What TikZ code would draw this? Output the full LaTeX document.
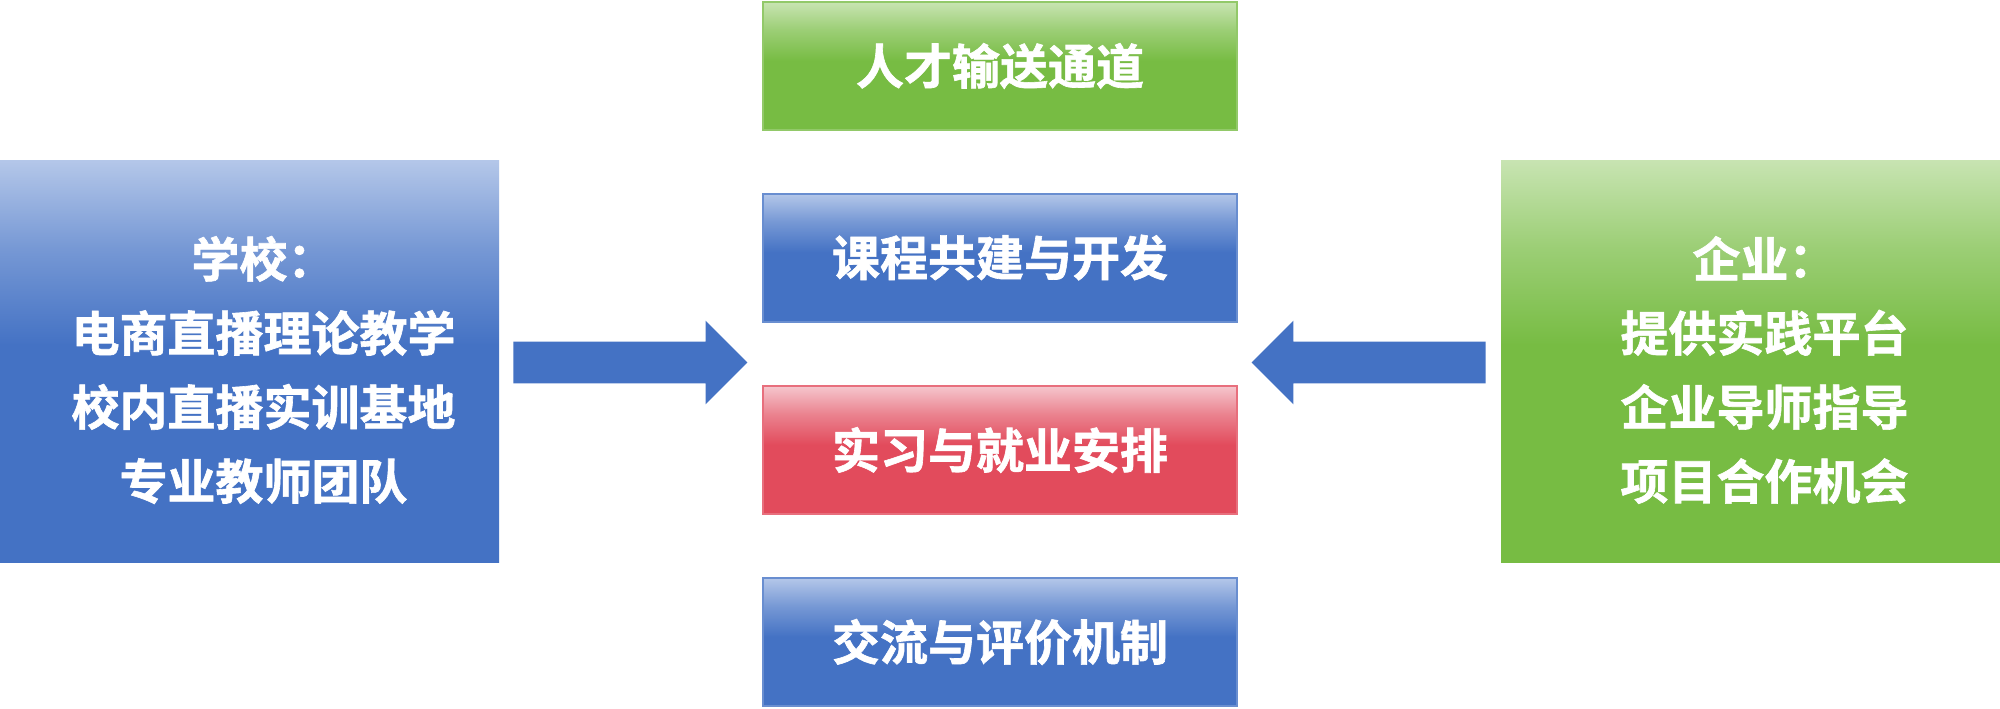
\documentclass[tikz,border=0pt]{standalone}
\usepackage{fontspec}
\newfontfamily\cjk{Noto Sans CJK SC}[UprightFont={* Bold},FakeBold=1.3]
\usetikzlibrary{shapes.arrows}
\definecolor{blueD}{HTML}{4472C4}
\definecolor{blueL}{HTML}{B4C7E9}
\definecolor{greenD}{HTML}{77BC43}
\definecolor{greenL}{HTML}{C8E4B2}
\definecolor{redD}{HTML}{E24B5C}
\definecolor{redL}{HTML}{F5C6CD}
\colorlet{blueM}{blueD!55!blueL}
\colorlet{greenM}{greenD!55!greenL}
\colorlet{redM}{redD!55!redL}
\pgfdeclareverticalshading{bshade}{100bp}{color(0bp)=(blueD); color(25bp)=(blueD); color(52bp)=(blueD); color(64bp)=(blueM); color(75bp)=(blueL); color(100bp)=(blueL)}
\pgfdeclareverticalshading{gshade}{100bp}{color(0bp)=(greenD); color(25bp)=(greenD); color(52bp)=(greenD); color(64bp)=(greenM); color(75bp)=(greenL); color(100bp)=(greenL)}
\pgfdeclareverticalshading{rshade}{100bp}{color(0bp)=(redD); color(25bp)=(redD); color(52bp)=(redD); color(64bp)=(redM); color(75bp)=(redL); color(100bp)=(redL)}
\tikzset{
  boxtext/.style={text=white, font=\cjk\fontsize{24}{37}\selectfont, align=center, inner sep=0pt},
  midbox/.style={rectangle, shade, shading=#1, minimum width=237pt, minimum height=64pt, inner sep=0pt, boxtext},
  sidebox/.style={rectangle, shade, shading=#1, minimum width=249.5pt, minimum height=201pt, inner sep=0pt},
  blockarrow/.style={single arrow, fill=blueD, draw=none, inner xsep=0pt, inner ysep=10.25pt, minimum height=117pt, single arrow head extend=10.5pt, single arrow head indent=0pt}
}
\begin{document}
\begin{tikzpicture}[x=0.5pt,y=-0.5pt]
\useasboundingbox[fill=white] (0,0) rectangle (2000,708);
% side boxes
\node[sidebox=bshade] (school) at (249.5,361) {};
\node[boxtext] (schoolt) at ([shift={(7pt,-4.5pt)}]school.center) {学校：\\电商直播理论教学\\校内直播实训基地\\专业教师团队};
\node[sidebox=gshade] (firm) at (1750.5,361) {};
\node[boxtext] (firmt) at ([shift={(7pt,-4.5pt)}]firm.center) {企业：\\提供实践平台\\企业导师指导\\项目合作机会};
% middle boxes
\node[midbox=gshade, draw=greenD!80!white, line width=1pt] (talent) at (1000,66) {人才输送通道};
\node[midbox=bshade, draw=blueD!80!white, line width=1pt] (course) at (1000,257.5) {课程共建与开发};
\node[midbox=rshade, draw=redD!80!white, line width=1pt] (intern) at (1000,450) {实习与就业安排};
\node[midbox=bshade, draw=blueD!80!white, line width=1pt] (eval) at (1000,642) {交流与评价机制};
% arrows
\node[blockarrow] (arrL) at (620,362.5) {};
\node[blockarrow, shape border rotate=180] (arrR) at (1379,362.5) {};
\end{tikzpicture}
\end{document}
